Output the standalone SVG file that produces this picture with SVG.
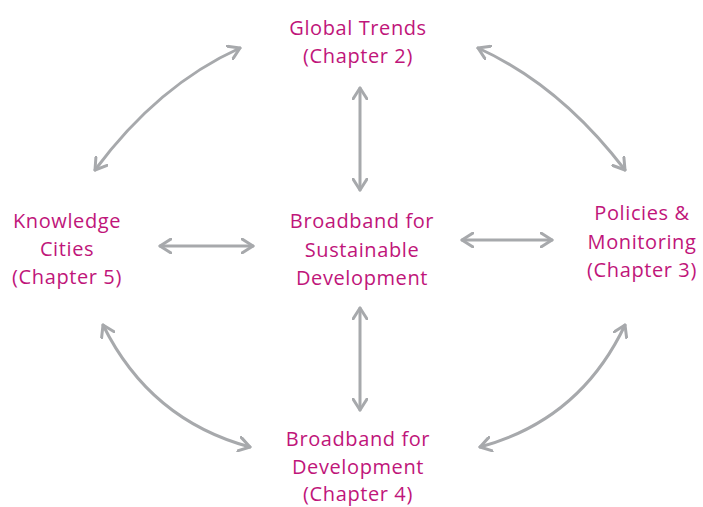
<svg xmlns="http://www.w3.org/2000/svg" width="703" height="507" viewBox="0 0 703 507">
<defs>
<style>
.t{font-family:"Open Sans","Noto Sans","Liberation Sans",sans-serif;font-size:20px;letter-spacing:0.6px;fill:#C0157A;text-anchor:middle}
.c{fill:none;stroke:#A7A9AC;stroke-width:3;stroke-linecap:round}
</style>
<marker id="ah" viewBox="-12 -8 14 16" markerWidth="14" markerHeight="16" markerUnits="userSpaceOnUse" refX="0" refY="0" orient="auto-start-reverse">
<path d="M-11,-7 L0,0 L-11,7" fill="none" stroke="#A7A9AC" stroke-width="3" stroke-linecap="round" stroke-linejoin="round"/>
</marker>
</defs>
<rect width="703" height="507" fill="#fff"/>
<g id="connectors">
<path class="c" d="M240,48 Q158,85 95,170" marker-start="url(#ah)" marker-end="url(#ah)"/>
<path class="c" d="M478,48 Q560,85 625,170" marker-start="url(#ah)" marker-end="url(#ah)"/>
<path class="c" d="M103,325 Q150,420 250,447" marker-start="url(#ah)" marker-end="url(#ah)"/>
<path class="c" d="M625,325 Q580,420 480,447" marker-start="url(#ah)" marker-end="url(#ah)"/>
<path class="c" d="M360,88 L360,190" marker-start="url(#ah)" marker-end="url(#ah)"/>
<path class="c" d="M360,308 L360,410" marker-start="url(#ah)" marker-end="url(#ah)"/>
<path class="c" d="M160,246 L253,246" marker-start="url(#ah)" marker-end="url(#ah)"/>
<path class="c" d="M462,240 L552,240" marker-start="url(#ah)" marker-end="url(#ah)"/>
</g>
<g id="global-trends"><text class="t" x="358" y="35">Global Trends</text><text class="t" x="358" y="63">(Chapter 2)</text></g>
<g id="center"><text class="t" x="362" y="228">Broadband for</text><text class="t" x="362" y="257">Sustainable</text><text class="t" x="362" y="285">Development</text></g>
<g id="knowledge-cities"><text class="t" x="67" y="228">Knowledge</text><text class="t" x="67" y="256">Cities</text><text class="t" x="67" y="284">(Chapter 5)</text></g>
<g id="policies"><text class="t" x="642" y="220">Policies &amp;</text><text class="t" x="642" y="249">Monitoring</text><text class="t" x="642" y="277">(Chapter 3)</text></g>
<g id="b4d"><text class="t" x="358" y="446">Broadband for</text><text class="t" x="358" y="474">Development</text><text class="t" x="358" y="501">(Chapter 4)</text></g>
</svg>
